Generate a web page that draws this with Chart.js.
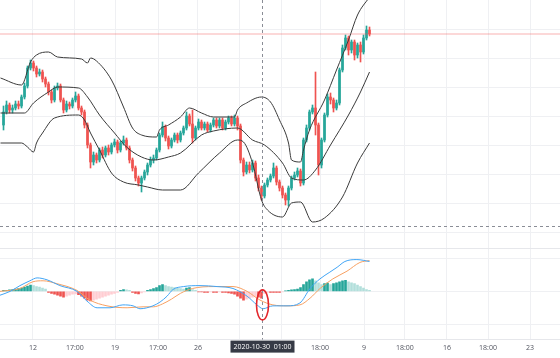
<!DOCTYPE html>
<html>
<head>
<meta charset="utf-8">
<title>Price with Bollinger Bands and MACD</title>
<script src="https://cdn.jsdelivr.net/npm/chart.js@4.4.1/dist/chart.umd.min.js"></script>
<style>
  html, body { margin: 0; padding: 0; background: #fff; }
  #wrap { position: relative; width: 560px; height: 358px; overflow: hidden; background: #fff; }
  #priceCanvas { position: absolute; left: 0; top: 0; }
  #macdCanvas { position: absolute; left: 0; top: 248px; }
</style>
</head>
<body>
<div id="wrap">
  <canvas id="priceCanvas" width="560" height="248"></canvas>
  <canvas id="macdCanvas" width="560" height="108"></canvas>
</div>
<script>
// --- Candles (one per bar index) ---
const opens = [
  125,138,145,140,142,146,144,153,164,182, 187,182,176,178,171,166,158,150,162,164,
  150,140,146,144,150,154,142,138,125,105, 88,95,90,100,95,102,98,105,108,100,
  107,110,102,90,82,72,67,72,78,85, 90,92,100,115,123,112,104,110,115,110,
  117,122,134,126,112,122,128,122,126,120, 125,130,124,130,122,128,132,126,132,124,
  90,78,85,80,87,72,62,54,65,70, 74,82,68,62,55,50,62,72,75,79,
  67,110,122,138,142,125,85,110,135,153, 150,142,147,180,202,212,200,208,195,205,
  198,212,220
];
const closes = [
  138,145,140,142,146,144,153,164,182,187, 182,176,178,171,166,158,150,162,164,150,
  140,146,144,150,154,142,138,125,105,88, 95,90,100,95,102,98,105,108,100,107,
  110,102,90,82,72,67,72,78,85,90, 92,100,115,123,112,104,110,115,110,117,
  122,134,126,112,122,128,122,126,120,125, 130,124,130,122,128,132,126,132,124,90,
  78,85,80,87,72,62,54,65,70,74, 82,68,62,55,50,62,72,75,79,67,
  110,122,138,142,125,85,110,135,153,150, 142,147,180,202,212,200,208,195,205,198,
  212,220,216
];
const highs = [
  144,149,147,145,149,149,155,167,184,190, 189,184,181,180,173,168,160,164,167,166,
  152,149,148,152,158,156,144,140,127,107, 98,97,102,103,104,105,107,111,110,109,
  114,112,104,92,84,74,74,80,87,93, 95,102,117,128,125,114,112,117,117,119,
  124,138,136,140,124,131,130,128,128,127, 132,132,132,132,130,134,134,135,134,126,
  92,88,88,90,89,75,64,67,72,76, 87,84,70,64,57,64,74,78,82,81,
  112,125,140,145,178,127,112,137,156,157, 152,150,182,205,215,214,210,210,207,208,
  215,224,223
];
const lows = [
  120,136,137,137,140,141,142,151,162,180, 179,173,174,168,163,155,147,148,160,148,
  137,138,141,142,148,140,135,122,102,82, 85,87,88,92,93,95,96,103,97,98,
  105,100,87,79,69,64,58,70,75,83, 87,90,98,113,109,101,102,108,107,108,
  115,120,124,107,110,120,120,120,118,118, 123,122,122,120,120,126,124,124,120,87,
  74,76,77,78,69,59,50,52,63,68, 72,65,59,52,45,44,60,70,73,64,
  65,108,120,136,115,75,82,108,133,146, 138,140,145,178,200,195,197,190,192,188,
  196,210,214
];

// --- Bollinger bands, read as [bar index, value] ---
const bbUpper = [[-1,172],[6,165],[9,188],[11,195],[15,198],[18,193],[26,191],[28,187],[29,192],[31,189],
  [36,170],[40,143],[43,122],[46,115],[51,113],[52,120],[55,125],[59,133],[62,142],[66,137],[70,133],
  [77,133],[78,140],[81,147],[86,153],[89,148],[92,130],[95,107],[96,90],[99,88],[100,100],[102,120],
  [107,150],[111,180],[115,210],[118,235],[122,253]];
const bbMiddle = [[-1,137],[7,137],[10,147],[15,158],[18,163],[25,162],[28,153],[32,135],[37,117],[41,103],
  [46,93],[50,90],[55,93],[59,97],[66,115],[70,119],[78,122],[83,110],[87,105],[93,87],[96,72],[100,70],
  [104,80],[109,105],[115,135],[119,158],[122,178]];
const bbLower = [[-1,107],[6,107],[8,103],[10,98],[11,107],[13,117],[17,132],[25,135],[27,130],[29,117],
  [32,100],[36,77],[40,68],[45,65],[48,63],[53,60],[59,60],[65,77],[72,97],[78,110],[80,108],[83,87],
  [86,50],[88,40],[93,33],[96,47],[99,48],[103,28],[107,32],[113,53],[118,87],[122,107]];

// --- MACD panel ---
const histogram = [
  1,1,1.5,2,2.5,3,3.5,4.5,5.5,6.5, 6,5,4.5,3.5,2.5,-1,-2,-3,-4,-5,
  -6,-5,-4,-3,-2.5,-3.5,-5,-7,-9,-10, -9,-8,-7,-6,-5,-4,-3,-2,-1,1,
  2,1.5,1,-1,-2,-2.5,-1.5,-0.5,1,2, 3,4,6,7,6,5,4.5,4,3.5,3,
  2.5,3.5,4,2,1,-0.5,-0.5,-1,-1,-0.5, -1,-1,-0.5,-1,-1,-1.5,-2,-3,-5,-7,
  -9,-8,-7,-6,-5,-6,-7,-2,-1,-1, -1,-1,-1,-0.5,0.5,1,1.5,2,2.5,4,
  7,10,12,13,11,9,7,8,8.5,7, 8,9,10,11,11.5,10,9,8,6.5,5,
  3.5,2,1
];
const macdLine = [[-1.2,-4],[2.2,0],[5.5,6],[8.8,11],[11.2,14],[14.5,12],[18.8,6],[24.5,0],[27.8,-10],
  [31.2,-17],[35.5,-17],[39.8,-14],[43.2,-15],[45.5,-18],[49.8,-15],[52.2,-11],[54.5,-5],[56.5,2],[60,5],
  [65.5,6],[71.2,5],[76.5,3],[81.2,-5],[84.5,-14],[86.5,-18],[89.8,-15],[94.5,-15],[98.8,-12],[102.2,3],
  [105.5,13],[108.8,20],[111.2,25],[113.8,31],[117.8,33],[122,31]];
const signalLine = [[-1.2,0],[5.5,3],[9.8,10],[13.2,11],[17.8,8],[24.5,1],[28.8,-9],[34.5,-15],[41.2,-17],
  [46.5,-16],[50,-16],[53,-13],[56,-8],[59,-2],[63,3],[70,5],[76.5,5],[81.2,0],[85.5,-9],[89.8,-14],
  [94.5,-15],[98.8,-14],[102.2,-7],[105.5,3],[109.8,13],[114.5,21],[118.8,30],[122,32]];

// --- Axis ticks ---
const tickIdx = [9.8, 23.8, 37.2, 51.5, 64.8, 78.8, 92.5, 105.5, 120.2, 133.8, 147.8, 161.5, 175.5];
const tickLabels = ['12', '17:00', '19', '17:00', '26', '17:00', '2', '18:00', '9', '18:00', '16', '18:00', '23'];
const priceTicks = [18, 47, 76, 105, 134, 163, 192, 221];
const macdTicks = [-50, -34, 0, 34, 45];

// --- Crosshair state ---
const crossIdx = 86;
const crossPrice = 24;
const crossLabel = '2020-10-30  01:00';
const markValue = -14;

const UP = '#26a69a';
const DOWN = '#ef5350';
const GRID = '#eff0f3';
const X_MIN = -1.17;
const X_MAX = 185.5;

const pairs = (arr) => arr.map(([x, y]) => ({ x, y }));
const candleColor = (i) => closes[i] >= opens[i] ? UP : DOWN;

function histColor(i) {
  const h = histogram[i];
  const prev = i > 0 ? histogram[i - 1] : 0;
  if (h >= 0) return h >= prev ? '#26a69a' : '#b2dfdb';
  return h <= prev ? '#ef5350' : '#ffcdd2';
}

function xScale(showLabels) {
  return {
    type: 'linear',
    min: X_MIN,
    max: X_MAX,
    offset: false,
    afterBuildTicks: (s) => { s.ticks = tickIdx.map(v => ({ value: v })); },
    grid: { color: GRID, drawTicks: false, offset: false },
    border: { display: false },
    ticks: {
      display: showLabels,
      autoSkip: false,
      maxRotation: 0,
      padding: 4,
      color: '#50535e',
      font: { family: 'Open Sans', size: 7 },
      callback: (v, i) => tickLabels[i],
    },
  };
}

function yScale(min, max, ticks, gridColor) {
  return {
    type: 'linear',
    min: min,
    max: max,
    afterBuildTicks: (s) => { s.ticks = ticks.map(v => ({ value: v })); },
    grid: { color: gridColor || GRID, drawTicks: false },
    border: { display: false },
    ticks: { display: false },
  };
}

// Crosshair, marker ellipse on the MACD and the time label
const crosshair = {
  id: 'crosshair',
  afterDraw(chart, args, opts) {
    const { ctx, chartArea, scales } = chart;
    const x = Math.round(scales.x.getPixelForValue(crossIdx)) + 0.5;
    ctx.save();
    ctx.strokeStyle = '#8a8d96';
    ctx.lineWidth = 1;
    ctx.setLineDash([3, 3]);
    ctx.beginPath();
    ctx.moveTo(x, 0);
    ctx.lineTo(x, chartArea.bottom);
    ctx.stroke();

    if (opts.price != null) {
      const y = Math.round(scales.y.getPixelForValue(opts.price)) + 0.5;
      ctx.beginPath();
      ctx.moveTo(chartArea.left, y);
      ctx.lineTo(chartArea.right, y);
      ctx.stroke();
    }

    if (opts.mark != null) {
      ctx.setLineDash([]);
      ctx.strokeStyle = '#e3262b';
      ctx.lineWidth = 1.6;
      ctx.beginPath();
      ctx.ellipse(x, scales.y.getPixelForValue(opts.mark), 6, 15, 0, 0, Math.PI * 2);
      ctx.stroke();
    }

    if (opts.label) {
      ctx.font = '7px "Open Sans"';
      const w = ctx.measureText(opts.label).width + 6;
      const top = chartArea.bottom + 1;
      ctx.fillStyle = '#363a45';
      ctx.fillRect(x - w / 2, top, w, 12);
      ctx.fillStyle = '#ffffff';
      ctx.textAlign = 'center';
      ctx.textBaseline = 'middle';
      ctx.fillText(opts.label, x, top + 6.5);
    }
    ctx.restore();
  },
};

const lastClose = closes[closes.length - 1];

function lineSet(data, color, order) {
  return {
    type: 'line',
    data: data,
    borderColor: color,
    borderWidth: 1,
    pointRadius: 0,
    fill: false,
    cubicInterpolationMode: 'monotone',
    order: order,
  };
}

new Chart(document.getElementById('priceCanvas'), {
  type: 'bar',
  data: {
    datasets: [
      {
        data: lows.map((l, i) => ({ x: i, y: [l, highs[i]] })),
        backgroundColor: closes.map((c, i) => candleColor(i)),
        barThickness: 1,
        grouped: false,
        order: 4,
      },
      {
        data: opens.map((o, i) => ({ x: i, y: [o, closes[i]] })),
        backgroundColor: closes.map((c, i) => candleColor(i)),
        barThickness: 2,
        grouped: false,
        order: 3,
      },
      lineSet(pairs(bbUpper), '#3a3a3a', 1),
      lineSet(pairs(bbMiddle), '#3a3a3a', 1),
      lineSet(pairs(bbLower), '#3a3a3a', 1),
      lineSet([{ x: X_MIN, y: lastClose }, { x: X_MAX, y: lastClose }], 'rgba(239,83,80,0.45)', 2),
    ],
  },
  options: {
    responsive: false,
    animation: false,
    layout: { padding: 0 },
    scales: {
      x: xScale(false),
      y: yScale(2, 250, priceTicks),
    },
    plugins: {
      legend: { display: false },
      tooltip: { enabled: false },
      crosshair: { price: crossPrice },
    },
  },
  plugins: [crosshair],
});

new Chart(document.getElementById('macdCanvas'), {
  type: 'bar',
  data: {
    datasets: [
      {
        data: histogram.map((h, i) => ({ x: i, y: h })),
        backgroundColor: histogram.map((h, i) => histColor(i)),
        barThickness: 2,
        grouped: false,
        order: 3,
      },
      lineSet(pairs(macdLine), '#42a5f5', 1),
      lineSet(pairs(signalLine), '#f7a062', 2),
    ],
  },
  options: {
    responsive: false,
    animation: false,
    layout: { padding: 0 },
    scales: {
      x: xScale(true),
      y: yScale(-50, 45, macdTicks, (c) => (c.tick && (c.tick.value === 45 || c.tick.value === -50)) ? '#e6e7eb' : GRID),
    },
    plugins: {
      legend: { display: false },
      tooltip: { enabled: false },
      crosshair: { mark: markValue, label: crossLabel },
    },
  },
  plugins: [crosshair],
});
</script>
</body>
</html>
